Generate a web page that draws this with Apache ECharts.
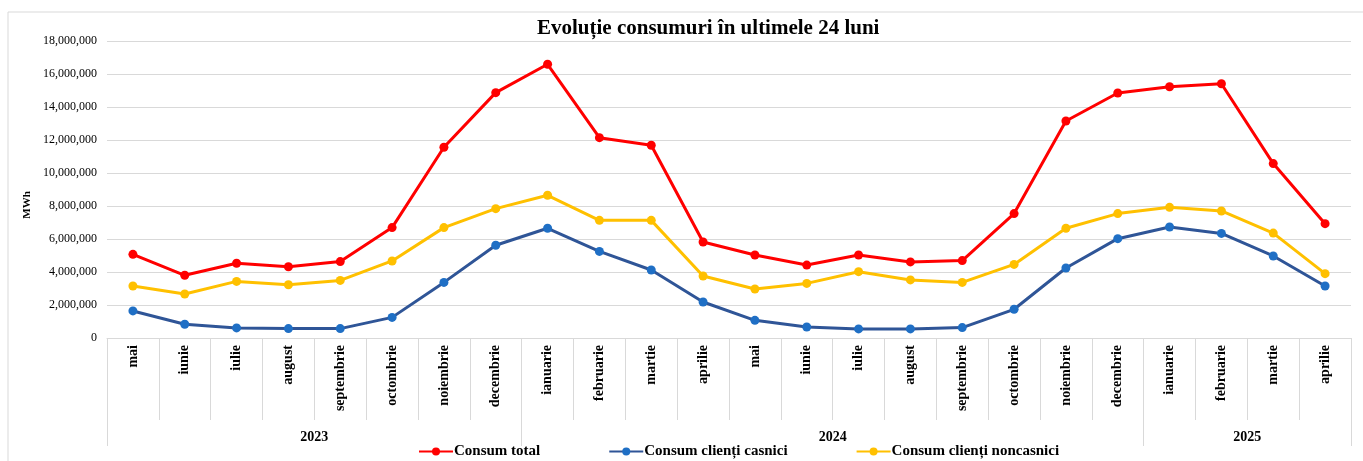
<!DOCTYPE html>
<html>
<head>
<meta charset="utf-8">
<script src="https://cdn.jsdelivr.net/npm/echarts@6/dist/echarts.min.js"></script>
<style>
  html, body { margin: 0; padding: 0; background: #fff; }
  #chart { width: 1363px; height: 461px; }
</style>
</head>
<body>
<div id="chart"></div>
<script>
// luni (24) si anii de grupare
const months = ['mai', 'iunie', 'iulie', 'august', 'septembrie', 'octombrie', 'noiembrie', 'decembrie',
  'ianuarie', 'februarie', 'martie', 'aprilie', 'mai', 'iunie', 'iulie', 'august', 'septembrie',
  'octombrie', 'noiembrie', 'decembrie', 'ianuarie', 'februarie', 'martie', 'aprilie']
const years = ['2023', '2024', '2025']
const yearCenters = [4, 14, 22]
const yearBounds = [0, 8, 20, 24]

// valori MWh
const consumTotal = [5070000, 3800000, 4530000, 4320000, 4630000, 6690000, 11560000, 14870000,
  16590000, 12140000, 11680000, 5820000, 5030000, 4420000, 5030000, 4610000, 4690000,
  7540000, 13150000, 14850000, 15230000, 15410000, 10570000, 6930000]
const consumCasnici = [1640000, 830000, 610000, 570000, 570000, 1250000, 3370000, 5620000,
  6650000, 5250000, 4120000, 2180000, 1070000, 670000, 550000, 550000, 630000,
  1740000, 4240000, 6020000, 6730000, 6340000, 4970000, 3150000]
const consumNoncasnici = [3150000, 2670000, 3430000, 3230000, 3490000, 4670000, 6690000, 7840000,
  8650000, 7130000, 7130000, 3760000, 2970000, 3310000, 4020000, 3520000, 3370000,
  4460000, 6650000, 7540000, 7920000, 7700000, 6360000, 3900000]

const serif = 'Liberation Serif'
const chart = echarts.init(document.getElementById('chart'))

chart.setOption({
  animation: false,
  textStyle: { fontFamily: serif },
  graphic: [
    {
      type: 'rect',
      shape: { x: 8, y: 12, width: 1400, height: 500 },
      style: { fill: 'none', stroke: '#d9d9d9', lineWidth: 1 },
      silent: true
    },
    {
      // eticheta axei Y
      type: 'text',
      x: 27,
      y: 205,
      rotation: Math.PI / 2,
      style: {
        text: 'MWh',
        font: 'bold 11px "Liberation Serif"',
        fill: '#000',
        align: 'center',
        verticalAlign: 'middle'
      }
    }
  ],
  title: {
    text: 'Evoluție consumuri în ultimele 24 luni',
    left: 537,
    top: 18,
    padding: 0,
    textStyle: { fontFamily: serif, fontSize: 21, fontWeight: 'bold', color: '#000' }
  },
  legend: {
    left: 418,
    top: 444,
    padding: 0,
    itemGap: 68,
    itemWidth: 34,
    itemHeight: 10,
    textStyle: { fontFamily: serif, fontSize: 15, fontWeight: 'bold', color: '#000', padding: [0, 0, 0, -4] },
    data: ['Consum total', 'Consum clienți casnici', 'Consum clienți noncasnici']
  },
  grid: { left: 107, right: 12, top: 41, bottom: 123 },
  xAxis: [
    {
      type: 'category',
      data: months,
      axisLine: { show: true, lineStyle: { color: '#d9d9d9', width: 1 } },
      axisTick: { show: true, interval: 0, alignWithLabel: false, length: 82, lineStyle: { color: '#d9d9d9' } },
      axisLabel: {
        interval: 0,
        rotate: 90,
        margin: 7,
        fontFamily: serif,
        fontSize: 14,
        fontWeight: 'bold',
        color: '#000'
      }
    },
    {
      type: 'value',
      position: 'bottom',
      min: 0,
      max: 24,
      axisLine: { show: false },
      splitLine: { show: false },
      axisTick: { show: true, length: 108, customValues: yearBounds, lineStyle: { color: '#d9d9d9' } },
      axisLabel: {
        customValues: yearCenters,
        margin: 92,
        formatter: v => years[yearCenters.indexOf(v)],
        fontFamily: serif,
        fontSize: 14,
        fontWeight: 'bold',
        color: '#000'
      }
    }
  ],
  yAxis: {
    type: 'value',
    min: 0,
    max: 18000000,
    interval: 2000000,
    axisLine: { show: false },
    axisTick: { show: false },
    axisLabel: {
      margin: 10,
      fontFamily: serif,
      fontSize: 12,
      color: '#000',
      formatter: v => v.toLocaleString('en-US')
    },
    splitLine: { lineStyle: { color: '#d9d9d9', width: 1 } }
  },
  series: [
    {
      name: 'Consum total',
      type: 'line',
      data: consumTotal,
      symbol: 'circle',
      symbolSize: 9,
      lineStyle: { color: '#ff0000', width: 3 },
      itemStyle: { color: '#ff0000' }
    },
    {
      name: 'Consum clienți casnici',
      type: 'line',
      data: consumCasnici,
      symbol: 'circle',
      symbolSize: 9,
      lineStyle: { color: '#2f5597', width: 3 },
      itemStyle: { color: '#1f6fc5' }
    },
    {
      name: 'Consum clienți noncasnici',
      type: 'line',
      data: consumNoncasnici,
      symbol: 'circle',
      symbolSize: 9,
      lineStyle: { color: '#ffc000', width: 3 },
      itemStyle: { color: '#ffc000' }
    }
  ]
})
</script>
</body>
</html>
